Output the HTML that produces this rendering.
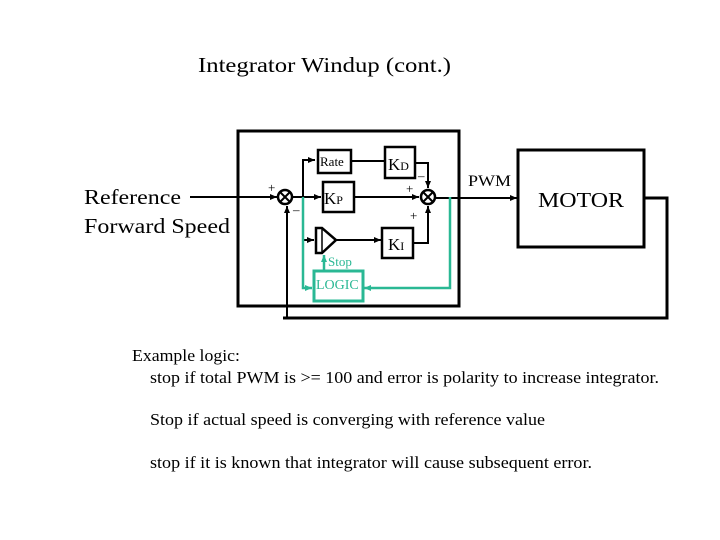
<!DOCTYPE html>
<html><head><style>
html,body{margin:0;padding:0;background:#fff;}
svg{display:block;}
text{font-family:"Liberation Serif",serif;fill:#000;}
</style></head><body>
<svg width="720" height="540" viewBox="0 0 720 540" xmlns="http://www.w3.org/2000/svg">
<defs>
<marker id="a" markerWidth="8" markerHeight="8" refX="7" refY="4" orient="auto" markerUnits="userSpaceOnUse"><path d="M0,1 L7,4 L0,7z" fill="#000"/></marker>
<marker id="t" markerWidth="8" markerHeight="8" refX="7" refY="4" orient="auto" markerUnits="userSpaceOnUse"><path d="M0,1 L7,4 L0,7z" fill="#2ab894"/></marker>
</defs>
<text x="198" y="72" font-size="21" textLength="253" lengthAdjust="spacingAndGlyphs">Integrator Windup  (cont.)</text>
<text x="84" y="204" font-size="21" textLength="97" lengthAdjust="spacingAndGlyphs">Reference</text>
<text x="84" y="233" font-size="21" textLength="146" lengthAdjust="spacingAndGlyphs">Forward Speed</text>
<rect x="238" y="131" width="221" height="175" fill="none" stroke="#000" stroke-width="3"/>
<line x1="190" y1="197" x2="277" y2="197" stroke="#000" stroke-width="2" marker-end="url(#a)"/>
<circle cx="285" cy="197" r="7" fill="#fff" stroke="#000" stroke-width="2.5"/>
<path d="M280,192 L290,202 M290,192 L280,202" stroke="#000" stroke-width="2"/>
<text x="268" y="192" font-size="13">+</text>
<text x="293" y="214" font-size="13">–</text>
<line x1="292" y1="197" x2="321" y2="197" stroke="#000" stroke-width="2" marker-end="url(#a)"/>
<path d="M303,240 L303,160 L315,160" fill="none" stroke="#000" stroke-width="2" marker-end="url(#a)"/>
<line x1="303" y1="240" x2="314" y2="240" stroke="#000" stroke-width="2" marker-end="url(#a)"/>
<rect x="318" y="150" width="33" height="23" fill="#fff" stroke="#000" stroke-width="2.5"/>
<text x="320" y="166" font-size="13">Rate</text>
<line x1="351" y1="161" x2="384" y2="161" stroke="#000" stroke-width="2"/>
<rect x="385" y="147" width="30" height="31" fill="#fff" stroke="#000" stroke-width="2.5"/>
<text x="388" y="170" font-size="17">K<tspan font-size="12">D</tspan></text>
<path d="M415,163 L428,163 L428,188" fill="none" stroke="#000" stroke-width="2" marker-end="url(#a)"/>
<text x="418" y="180" font-size="13">–</text>
<rect x="323" y="182" width="31" height="30" fill="#fff" stroke="#000" stroke-width="2.5"/>
<text x="324" y="204" font-size="17">K<tspan font-size="12">P</tspan></text>
<line x1="354" y1="197" x2="419" y2="197" stroke="#000" stroke-width="2" marker-end="url(#a)"/>
<text x="406" y="193" font-size="13">+</text>
<circle cx="428" cy="197" r="7" fill="#fff" stroke="#000" stroke-width="2.5"/>
<path d="M423,192 L433,202 M433,192 L423,202" stroke="#000" stroke-width="2"/>
<text x="410" y="220" font-size="13">+</text>
<path d="M316,228 L322,228 L336,240 L322,253 L316,253z" fill="#fff" stroke="#000" stroke-width="2.5"/>
<line x1="322" y1="228" x2="322" y2="253" stroke="#000" stroke-width="1.5"/>
<line x1="336" y1="240" x2="381" y2="240" stroke="#000" stroke-width="2" marker-end="url(#a)"/>
<rect x="382" y="228" width="31" height="30" fill="#fff" stroke="#000" stroke-width="2.5"/>
<text x="388" y="250" font-size="17">K<tspan font-size="12">I</tspan></text>
<path d="M413,243 L428,243 L428,206" fill="none" stroke="#000" stroke-width="2" marker-end="url(#a)"/>
<line x1="435" y1="198" x2="517" y2="198" stroke="#000" stroke-width="2" marker-end="url(#a)"/>
<text x="468" y="186" font-size="16" textLength="43" lengthAdjust="spacingAndGlyphs">PWM</text>
<rect x="518" y="150" width="126" height="97" fill="none" stroke="#000" stroke-width="3"/>
<text x="538" y="207" font-size="21" textLength="86" lengthAdjust="spacingAndGlyphs">MOTOR</text>
<path d="M644,198 L667,198 L667,318 L283,318" fill="none" stroke="#000" stroke-width="3"/>
<path d="M287,318 L287,206" fill="none" stroke="#000" stroke-width="2" marker-end="url(#a)"/>
<path d="M303,197 L303,288 L312,288" fill="none" stroke="#2ab894" stroke-width="2.5" marker-end="url(#t)"/>
<path d="M450,197 L450,288 L364,288" fill="none" stroke="#2ab894" stroke-width="2.5" marker-end="url(#t)"/>
<rect x="314" y="271" width="49" height="30" fill="#fff" stroke="#2ab894" stroke-width="3"/>
<text x="316" y="289" font-size="14" style="fill:#2ab894">LOGIC</text>
<line x1="324" y1="271" x2="324" y2="255" stroke="#2ab894" stroke-width="2.5" marker-end="url(#t)"/>
<text x="328" y="266" font-size="13" style="fill:#2ab894">Stop</text>
<text x="132" y="361" font-size="17" textLength="108" lengthAdjust="spacingAndGlyphs">Example logic:</text>
<text x="150" y="383" font-size="17" textLength="509" lengthAdjust="spacingAndGlyphs">stop if total PWM is &gt;= 100 and error is polarity to increase integrator.</text>
<text x="150" y="425" font-size="17" textLength="395" lengthAdjust="spacingAndGlyphs">Stop if actual speed is converging with reference value</text>
<text x="150" y="468" font-size="17" textLength="442" lengthAdjust="spacingAndGlyphs">stop if it is known that integrator will cause subsequent error.</text>
</svg>
</body></html>
